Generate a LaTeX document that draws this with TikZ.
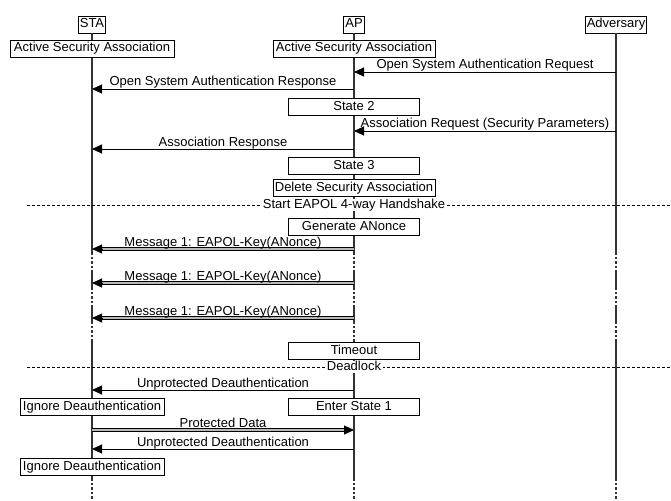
\documentclass[tikz,border=0pt]{standalone}
\usepackage{fontspec}
\setmainfont{Liberation Sans}
\usetikzlibrary{arrows.meta,calc}
\begin{document}
\begin{tikzpicture}[x=1pt,y=-1pt,
  every node/.style={font=\fontsize{13}{15}\selectfont},
  ent/.style={draw, fill=white, line width=0.8pt, inner xsep=1.5pt, inner ysep=0pt,
    minimum height=17pt, text height=9.5pt, text depth=2.5pt},
  stbox/.style={ent, minimum width=#1},
  life/.style={line width=1.1pt, black!80},
  lifegap/.style={life, dash pattern=on 2.5pt off 2pt},
  msg/.style={line width=0.9pt, -{Triangle[length=10pt,width=9pt]}},
  dbl/.style={line width=1pt, double=gray!55, double distance=1.5pt},
  headonly/.style={line width=0.9pt, -{Triangle[length=10pt,width=9pt]}},
  lbl/.style={anchor=base, yshift=3pt, inner sep=0pt},
  divider/.style={line width=0.9pt, dash pattern=on 3pt off 2pt},
  divlbl/.style={fill=white, inner xsep=2pt, inner ysep=0pt, text height=9.5pt, text depth=2.5pt}
]
\useasboundingbox (0,0) rectangle (671,500);

% entities
\node[ent] (sta) at (92,24.5) {STA};
\node[ent] (ap)  at (354,24.5) {AP};
\node[ent] (adv) at (616,24.5) {Adversary};

% lifelines, with discontinuities drawn dotted
\foreach \e in {sta,ap,adv} {
  \draw[life] (\e.south) -- (\e |- 0,252);
  \draw[lifegap] (\e |- 0,252) -- (\e |- 0,271);
  \draw[life] (\e |- 0,271) -- (\e |- 0,287);
  \draw[lifegap] (\e |- 0,287) -- (\e |- 0,305);
  \draw[life] (\e |- 0,305) -- (\e |- 0,321);
  \draw[lifegap] (\e |- 0,321) -- (\e |- 0,340);
  \draw[life] (\e |- 0,340) -- (\e |- 0,478);
  \draw[lifegap] (\e |- 0,478) -- (\e |- 0,500);
}

% dividers
\coordinate (d1l) at (27,205);  \coordinate (d1r) at (671,205);
\coordinate (d2l) at (27,367);  \coordinate (d2r) at (671,367);
\draw[divider] (d1l) -- (d1r);
\draw[divider] (d2l) -- (d2r);

% message end points
\coordinate (m1v) at (616,72);   \coordinate (m1a) at (354,72);
\coordinate (m2a) at (354,89);   \coordinate (m2s) at (92,89);
\coordinate (m3v) at (616,131);  \coordinate (m3a) at (354,131);
\coordinate (m4a) at (354,149);  \coordinate (m4s) at (92,149);
\coordinate (k1a) at (354,249);  \coordinate (k1s) at (92,249);
\coordinate (k2a) at (354,283);  \coordinate (k2s) at (92,283);
\coordinate (k3a) at (354,318);  \coordinate (k3s) at (92,318);
\coordinate (u1a) at (354,390);  \coordinate (u1s) at (92,390);
\coordinate (p1s) at (92,430);   \coordinate (p1a) at (354,430);
\coordinate (u2a) at (354,449);  \coordinate (u2s) at (92,449);

% single-line messages
\draw[msg] (m1v) -- node[lbl]{Open System Authentication Request} (m1a);
\draw[msg] (m2a) -- node[lbl]{Open System Authentication Response} (m2s);
\draw[msg] (m3v) -- node[lbl]{Association Request (Security Parameters)} (m3a);
\draw[msg] (m4a) -- node[lbl]{Association Response} (m4s);
\draw[msg] (u1a) -- node[lbl]{Unprotected Deauthentication} (u1s);
\draw[msg] (u2a) -- node[lbl]{Unprotected Deauthentication} (u2s);

% double-line messages
\foreach \f/\t/\txt in {k1a/k1s/{Message 1: EAPOL-Key(ANonce)},
                        k2a/k2s/{Message 1: EAPOL-Key(ANonce)},
                        k3a/k3s/{Message 1: EAPOL-Key(ANonce)},
                        p1s/p1a/{Protected Data}} {
  \draw[dbl, shorten >=9pt] (\f) -- node[lbl, yshift=-0.5pt]{\txt} (\t);
  \draw[headonly] ($(\t)!10pt!(\f)$) -- (\t);
}

% state boxes
\node[stbox=164pt] (asa1) at (92,48.5)  {Active Security Association};
\node[stbox=162pt] (asa2) at (354,48.5) {Active Security Association};
\node[stbox=131pt] (st2)  at (354,107)  {State 2};
\node[stbox=131pt] (st3)  at (354,166)  {State 3};
\node[stbox=162pt] (dsa)  at (354,188)  {Delete Security Association};
\node[stbox=131pt] (gen)  at (354,226.5) {Generate ANonce};
\node[stbox=131pt] (tmo)  at (354,351)  {Timeout};
\node[stbox=144pt] (ign1) at (92,407)   {Ignore Deauthentication};
\node[stbox=131pt] (es1)  at (354,407)  {Enter State 1};
\node[stbox=144pt] (ign2) at (92,467)   {Ignore Deauthentication};

% divider labels
\node[divlbl] (d1t) at (354,205) {Start EAPOL 4-way Handshake};
\node[divlbl] (d2t) at (354,367) {Deadlock};
\end{tikzpicture}
\end{document}
